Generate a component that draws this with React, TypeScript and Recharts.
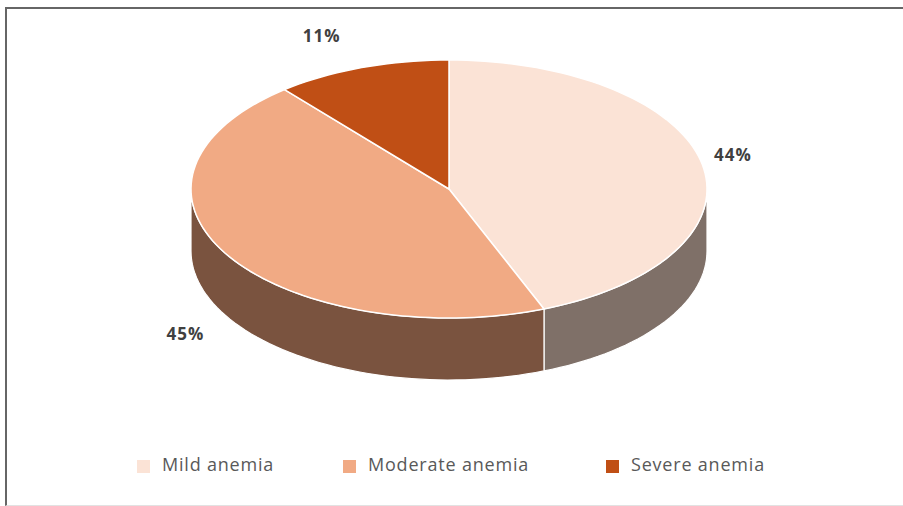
// AnemiaPieChart.tsx
import { PieChart, Pie, Cell, Legend } from "recharts";

const categories = ["Mild anemia", "Moderate anemia", "Severe anemia"];
const shares = [44, 45, 11];
const topColors = ["#fbe3d6", "#f1aa84", "#c04f15"];
const sideColors = ["#7f7068", "#7a533f", "#6e2e0c"];

const data = categories.map((name, i) => ({ name, value: shares[i] }));

// 3D look
const TILT = 0.5;
const DEPTH = 62;
const CX = 449;
const CY = 189;
const RADIUS = 258;

const LEGEND_X = [137, 343, 606];

const pt = (cx: number, cy: number, rx: number, ry: number, deg: number) => {
  const a = (deg * Math.PI) / 180;
  return [cx + rx * Math.cos(a), cy - ry * Math.sin(a)];
};

const arc = (cx: number, cy: number, rx: number, ry: number, from: number, to: number) => {
  const n = Math.max(2, Math.ceil(Math.abs(to - from) / 2));
  const pts: number[][] = [];
  for (let i = 0; i <= n; i++) pts.push(pt(cx, cy, rx, ry, from + ((to - from) * i) / n));
  return pts;
};

const toPath = (pts: number[][]) =>
  pts.map((p, i) => `${i ? "L" : "M"}${p[0].toFixed(2)},${p[1].toFixed(2)}`).join(" ") + " Z";

const TopShape = (props: any) => {
  const { cx, cy, outerRadius, startAngle, endAngle, fill } = props;
  const pts = [[cx, cy], ...arc(cx, cy, outerRadius, outerRadius * TILT, startAngle, endAngle)];
  return <path d={toPath(pts)} fill={fill} stroke="#ffffff" strokeWidth={1.5} strokeLinejoin="round" />;
};

const SideShape = (props: any) => {
  const { cx, cy, outerRadius, startAngle, endAngle, fill } = props;
  const lo = Math.min(startAngle, endAngle);
  const hi = Math.max(startAngle, endAngle);
  const rx = outerRadius;
  const ry = outerRadius * TILT;
  const walls: string[] = [];
  // front half of the ellipse is where sin < 0
  for (let k = -2; k <= 1; k++) {
    const a = Math.max(lo, -180 + k * 360);
    const b = Math.min(hi, k * 360);
    if (b - a > 0.01) {
      const top = arc(cx, cy, rx, ry, a, b);
      const bottom = arc(cx, cy + DEPTH, rx, ry, b, a);
      walls.push(toPath([...top, ...bottom]));
    }
  }
  return (
    <g>
      {walls.map((d, i) => (
        <path key={i} d={d} fill={fill} stroke="#ffffff" strokeWidth={1.2} />
      ))}
    </g>
  );
};

const renderLabel = (props: any) => {
  const { cx, cy, outerRadius, midAngle, percent } = props;
  const a = (midAngle * Math.PI) / 180;
  const cos = Math.cos(a);
  const sin = Math.sin(a);
  const x = cx + outerRadius * cos * 1.12 + (cos < 0 ? -20 - 10 * sin : 0);
  const y = cy - outerRadius * TILT * sin * 1.22 - 5 + (sin < 0 ? DEPTH + 7 : 0);
  return (
    <text
      x={x}
      y={y}
      textAnchor="middle"
      dominantBaseline="central"
      fill="#404040"
      fontSize={17}
      fontWeight="bold"
      letterSpacing={1}
      fontFamily="'Open Sans', sans-serif"
    >
      {`${Math.round(percent * 100)}%`}
    </text>
  );
};

const renderLegend = () => (
  <div style={{ position: "relative", height: 30 }}>
    {categories.map((name, i) => (
      <div
        key={name}
        style={{
          position: "absolute",
          left: LEGEND_X[i],
          top: 0,
          display: "flex",
          alignItems: "center",
          fontFamily: "'Open Sans', sans-serif",
          fontSize: 18,
          letterSpacing: 0.8,
          color: "#595959",
          whiteSpace: "nowrap",
        }}
      >
        <span
          style={{
            display: "inline-block",
            width: 13,
            height: 13,
            marginTop: 5,
            marginRight: 12,
            background: topColors[i],
          }}
        />
        <span>{name}</span>
      </div>
    ))}
  </div>
);

const App = () => {
  return (
    <div style={{ position: "absolute", left: 0, top: 0, width: 903, height: 506, background: "#fff" }}>
      <div
        style={{
          position: "absolute",
          left: 5,
          top: 7,
          width: 910,
          height: 496,
          borderLeft: "2px solid #666",
          borderTop: "2px solid #666",
          borderBottom: "1px solid #e2e2e2",
        }}
      />
      <div style={{ position: "absolute", left: 0, top: 0 }}>
        <PieChart width={903} height={506} margin={{ top: 0, right: 0, bottom: 0, left: 0 }}>
          <Pie
            data={data}
            dataKey="value"
            nameKey="name"
            cx={CX}
            cy={CY}
            outerRadius={RADIUS}
            startAngle={90}
            endAngle={-270}
            legendType="none"
            shape={SideShape}
            isAnimationActive={false}
          >
            {data.map((d, i) => (
              <Cell key={d.name} fill={sideColors[i]} />
            ))}
          </Pie>
          <Pie
            data={data}
            dataKey="value"
            nameKey="name"
            cx={CX}
            cy={CY}
            outerRadius={RADIUS}
            startAngle={90}
            endAngle={-270}
            shape={TopShape}
            label={renderLabel}
            labelLine={false}
            isAnimationActive={false}
          >
            {data.map((d, i) => (
              <Cell key={d.name} fill={topColors[i]} />
            ))}
          </Pie>
          <Legend
            content={renderLegend}
            wrapperStyle={{ position: "absolute", left: 0, top: 452, width: 903 }}
          />
        </PieChart>
      </div>
    </div>
  );
};

export default App;
